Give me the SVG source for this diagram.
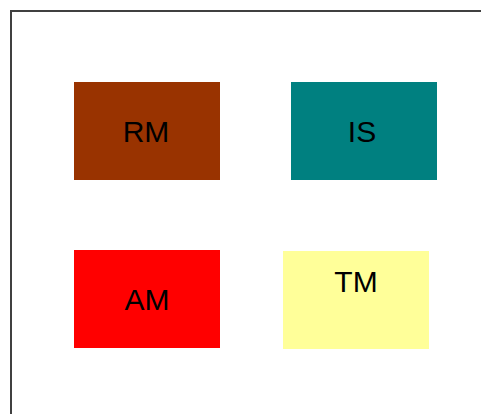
<svg xmlns="http://www.w3.org/2000/svg" width="481" height="414" viewBox="0 0 481 414">
<style>
.lbl{font-family:"Liberation Sans",Arial,sans-serif;font-size:30px;fill:#000;text-anchor:middle}
.frame{stroke:#404040;stroke-width:2;fill:none}
</style>
<rect x="0" y="0" width="481" height="414" fill="#fff"/>
<path class="frame" d="M11,414 V11 H481"/>
<g id="RM"><rect x="74" y="82" width="146" height="98" fill="#993300"/><text class="lbl" x="146" y="142">RM</text></g>
<g id="IS"><rect x="291" y="82" width="146" height="98" fill="#008080"/><text class="lbl" x="362" y="142">IS</text></g>
<g id="AM"><rect x="74" y="250" width="146" height="98" fill="#FF0000"/><text class="lbl" x="147" y="310">AM</text></g>
<g id="TM"><rect x="283" y="251" width="146" height="98" fill="#FFFF99"/><text class="lbl" x="356" y="292">TM</text></g>
<g id="connectors"/>
</svg>
